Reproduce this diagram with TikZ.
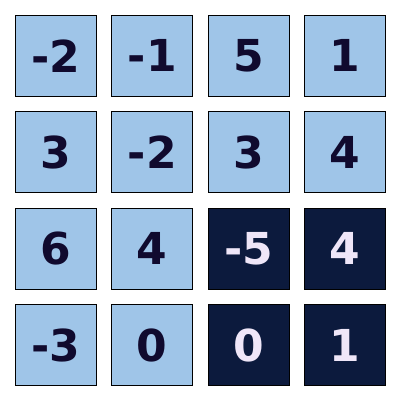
\documentclass[tikz,border=0pt]{standalone}
\usepackage{fontspec}
\setmainfont{DejaVu Sans}
\definecolor{lightcell}{HTML}{9FC5E8}
\definecolor{darkcell}{HTML}{0C1A3D}
\definecolor{darktext}{HTML}{100A2E}
\definecolor{lighttext}{HTML}{EFE6F8}
\tikzset{
  cell/.style={draw=black, line width=1pt, minimum size=81pt, inner sep=0pt, font=\fontsize{44}{44}\selectfont\bfseries},
  lcell/.style={cell, fill=lightcell, text=darktext},
  dcell/.style={cell, fill=darkcell, text=lighttext}
}
\begin{document}
\begin{tikzpicture}[x=1pt,y=-1pt]
\useasboundingbox (0,0) rectangle (400,400);
\def\P{96.5}
\node[lcell] (c11) at (55.75,55.75) {-2};
\node[lcell] (c12) at (55.75+\P,55.75) {-1};
\node[lcell] (c13) at (55.75+2*\P,55.75) {5};
\node[lcell] (c14) at (55.75+3*\P,55.75) {1};
\node[lcell] (c21) at (55.75,55.75+\P) {3};
\node[lcell] (c22) at (55.75+\P,55.75+\P) {-2};
\node[lcell] (c23) at (55.75+2*\P,55.75+\P) {3};
\node[lcell] (c24) at (55.75+3*\P,55.75+\P) {4};
\node[lcell] (c31) at (55.75,55.75+2*\P) {6};
\node[lcell] (c32) at (55.75+\P,55.75+2*\P) {4};
\node[dcell] (c33) at (55.75+2*\P,55.75+2*\P) {-5};
\node[dcell] (c34) at (55.75+3*\P,55.75+2*\P) {4};
\node[lcell] (c41) at (55.75,55.75+3*\P) {-3};
\node[lcell] (c42) at (55.75+\P,55.75+3*\P) {0};
\node[dcell] (c43) at (55.75+2*\P,55.75+3*\P) {0};
\node[dcell] (c44) at (55.75+3*\P,55.75+3*\P) {1};
\end{tikzpicture}
\end{document}
